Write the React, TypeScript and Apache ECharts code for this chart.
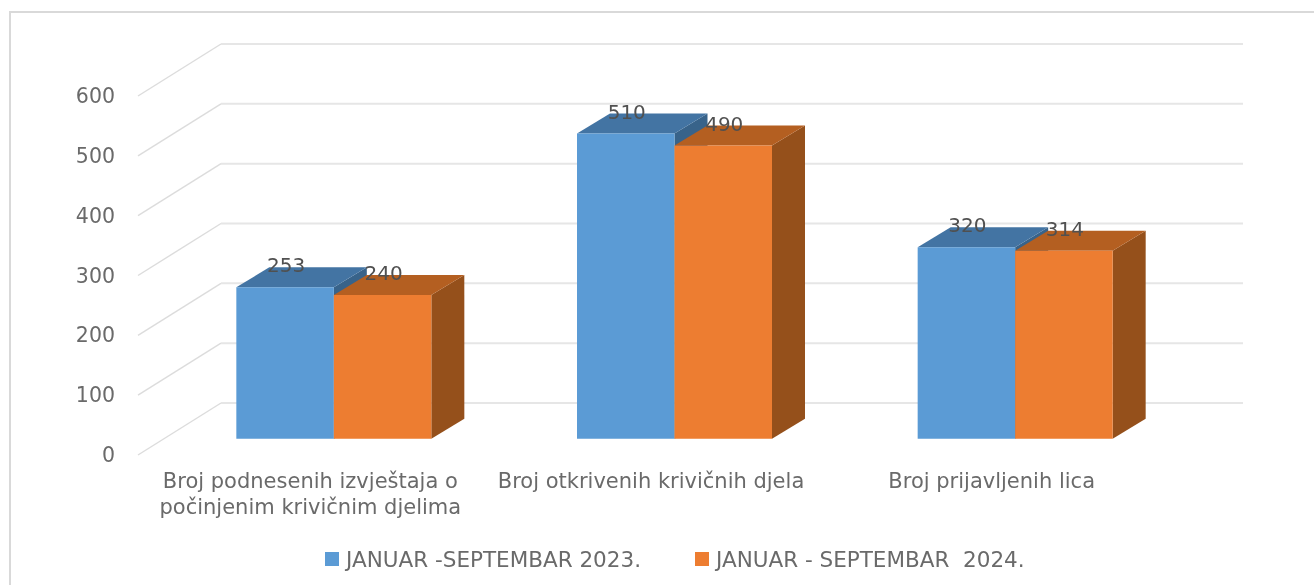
import React, { useEffect, useRef } from "react";
import * as echarts from "echarts";

const categories = [
  "Broj podnesenih izvještaja o\npočinjenim krivičnim djelima",
  "Broj otkrivenih krivičnih djela",
  "Broj prijavljenih lica",
];
const series2023Name = "JANUAR -SEPTEMBAR 2023.";
const series2024Name = "JANUAR - SEPTEMBAR  2024.";
const values2023 = [253, 510, 320];
const values2024 = [240, 490, 314];
const yTicks = [0, 100, 200, 300, 400, 500, 600];

const FONT = "'DejaVu Sans', sans-serif";
const DEPTH_X = 83;
const DEPTH_Y = 52;
const BAR_OFF_X = 23.5;
const BAR_OFF_Y = 16.3;
const BAR_W = 97.5;
const BAR_DX = 33;
const BAR_DY = 20;

function barRenderer(offset: number, front: string, top: string, side: string) {
  return (params: any, api: any) => {
    const p = api.coord([api.value(0), api.value(1)]);
    const base = api.coord([api.value(0), 0]);
    const x0 = p[0] + BAR_OFF_X + offset * BAR_W;
    const x1 = x0 + BAR_W;
    const yT = p[1] - BAR_OFF_Y;
    const yB = base[1] - BAR_OFF_Y;
    return {
      type: "group",
      children: [
        {
          type: "polygon",
          shape: { points: [[x1, yT], [x1 + BAR_DX, yT - BAR_DY], [x1 + BAR_DX, yB - BAR_DY], [x1, yB]] },
          style: { fill: side },
        },
        {
          type: "polygon",
          shape: { points: [[x0, yT], [x0 + BAR_DX, yT - BAR_DY], [x1 + BAR_DX, yT - BAR_DY], [x1, yT]] },
          style: { fill: top },
        },
        {
          type: "rect",
          shape: { x: x0, y: yT, width: BAR_W, height: yB - yT },
          style: { fill: front },
        },
        {
          type: "text",
          x: x0 + BAR_W / 2 + 1,
          y: yT - 22,
          style: {
            text: String(api.value(1)),
            fill: "#505050",
            font: `20px ${FONT}`,
            align: "center",
            verticalAlign: "middle",
          },
        },
      ],
    };
  };
}

function wallRenderer(params: any, api: any) {
  const y = api.coord([0, api.value(1)])[1];
  const cs = params.coordSys;
  const xF = cs.x - 2;
  const xB = cs.x + DEPTH_X - 2;
  const xR = 1243;
  return {
    type: "group",
    children: [
      {
        type: "line",
        shape: { x1: xF, y1: y, x2: xB, y2: y - DEPTH_Y },
        style: { stroke: "#dcdcdc", lineWidth: 1.4 },
      },
      {
        type: "line",
        shape: { x1: xB, y1: y - DEPTH_Y, x2: xR, y2: y - DEPTH_Y },
        style: { stroke: "#e6e6e6", lineWidth: 2 },
      },
    ],
  };
}

export default function App() {
  const ref = useRef<HTMLDivElement>(null);
  useEffect(() => {
    const chart = echarts.init(ref.current!, undefined, { renderer: "svg" });
    chart.setOption({
      animation: false,
      backgroundColor: "#ffffff",
      grid: { left: 140, top: 96, width: 1022, height: 359, containLabel: false },
      xAxis: {
        type: "category",
        data: categories,
        axisLine: { show: false },
        axisTick: { show: false },
        splitLine: { show: false },
        axisLabel: {
          interval: 0,
          margin: 13,
          color: "#6a6a6a",
          fontFamily: FONT,
          fontSize: 21,
          lineHeight: 26,
          verticalAlign: "top",
        },
      },
      yAxis: {
        type: "value",
        min: 0,
        max: 600,
        interval: 100,
        axisLine: { show: false },
        axisTick: { show: false },
        splitLine: { show: false },
        axisLabel: { margin: 25, color: "#6a6a6a", fontFamily: FONT, fontSize: 20.5 },
      },
      legend: {
        left: 325,
        top: 548,
        padding: 0,
        itemWidth: 14,
        itemHeight: 14,
        itemGap: 54,
        icon: "rect",
        data: [series2023Name, series2024Name],
        textStyle: { color: "#6a6a6a", fontFamily: FONT, fontSize: 21.5, padding: [0, 0, 0, 2] },
      },
      graphic: [
        {
          type: "polyline",
          shape: { points: [[10, 600], [10, 12], [1314, 12]] },
          style: { fill: "none", stroke: "#d9d9d9", lineWidth: 2 },
          silent: true,
        },
      ],
      series: [
        {
          type: "custom",
          name: "wall",
          coordinateSystem: "cartesian2d",
          renderItem: wallRenderer,
          data: yTicks.map((t) => [0, t]),
          silent: true,
          z: 1,
        },
        {
          type: "custom",
          name: series2023Name,
          coordinateSystem: "cartesian2d",
          renderItem: barRenderer(-1, "#5B9BD5", "#4374A3", "#38638A"),
          itemStyle: { color: "#5B9BD5" },
          data: values2023.map((v, i) => [i, v]),
          z: 2,
        },
        {
          type: "custom",
          name: series2024Name,
          coordinateSystem: "cartesian2d",
          renderItem: barRenderer(0, "#ED7D31", "#B45F21", "#95501B"),
          itemStyle: { color: "#ED7D31" },
          data: values2024.map((v, i) => [i, v]),
          z: 3,
        },
      ],
    });
    return () => chart.dispose();
  }, []);
  return (
    <div
      ref={ref}
      style={{ position: "absolute", left: 0, top: 0, width: 1314, height: 585, filter: "blur(0.5px)" }}
    />
  );
}
